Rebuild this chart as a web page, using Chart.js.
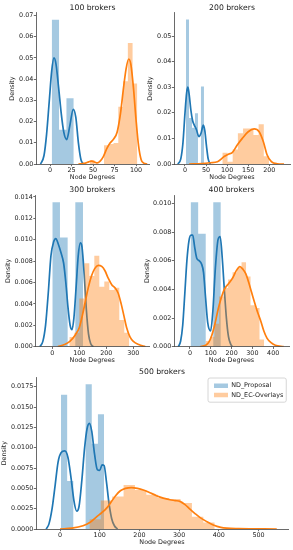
<!DOCTYPE html>
<html>
<head>
<meta charset="utf-8">
<script src="https://cdn.jsdelivr.net/npm/chart.js@4.4.1/dist/chart.umd.min.js"></script>
<style>
  html, body { margin: 0; padding: 0; background: #fff; overflow: hidden; }
  body { width: 293px; height: 550px; position: relative; }
  canvas { position: absolute; }
</style>
</head>
<body>
<canvas id="c100"></canvas>
<canvas id="c200"></canvas>
<canvas id="c300"></canvas>
<canvas id="c400"></canvas>
<canvas id="c500"></canvas>
<script>
const seriesNames = ["ND_Proposal", "ND_EC-Overlays"];
const panelTitles = ["100 brokers", "200 brokers", "300 brokers", "400 brokers", "500 brokers"];
const xLabel = "Node Degrees";
const yLabel = "Density";

// tick values
const xTicks100 = [0, 25, 50, 75, 100];
const xTicks200 = [0, 50, 100, 150, 200];
const xTicks300 = [0, 100, 200, 300];
const xTicks400 = [0, 100, 200, 300, 400];
const xTicks500 = [0, 100, 200, 300, 400, 500];
const yTicks100 = [0, 0.01, 0.02, 0.03, 0.04, 0.05, 0.06, 0.07];
const yTicks200 = [0, 0.01, 0.02, 0.03, 0.04, 0.05];
const yTicks300 = [0, 0.002, 0.004, 0.006, 0.008, 0.010, 0.012, 0.014];
const yTicks400 = [0, 0.002, 0.004, 0.006, 0.008, 0.010];
const yTicks500 = [0, 0.0025, 0.005, 0.0075, 0.01, 0.0125, 0.015, 0.0175];

// histograms: bin edges and density per bin
const blue100Edges = [2, 10.5, 19.1, 27.6];
const blue100Hist = [0.068, 0.0161, 0.031];
const orange100Edges = [46.2, 51.7, 57.3, 62.8, 68.3, 73.9, 79.4, 84.9, 90.5, 96.0, 101.5];
const orange100Hist = [0.0019, 0, 0, 0.0088, 0.0094, 0.0099, 0.027, 0.039, 0.057, 0.038];

const blue200Edges = [2.4, 9.5, 16.6, 23.7, 30.8, 37.9, 45.0];
const blue200Hist = [0.0565, 0.018, 0.0142, 0.0198, 0, 0.0303];
const orange200Edges = [88.6, 100.9, 113.2, 125.5, 137.8, 150.1, 162.4, 174.7, 187.0, 199.3];
const orange200Hist = [0.0044, 0.0009, 0.0057, 0.012, 0.0139, 0.0139, 0.0113, 0.0155, 0.003];

const blue300Edges = [0, 28.4, 56.8, 85.2, 113.6];
const blue300Hist = [0.0135, 0.0102, 0, 0.0135];
const orange300Edges = [63, 81.5, 100, 118.5, 137, 155.5, 174, 192.5, 211, 229.5, 248, 266.5, 285];
const orange300Hist = [0.0009, 0.0013, 0.0045, 0.0078, 0.0066, 0.0085, 0.0056, 0.0061, 0.0053, 0.0055, 0.0025, 0.0013];

const blue400Edges = [3, 39.3, 75.6, 111.9, 148.2];
const blue400Hist = [0.0101, 0.0079, 0, 0.0101];
const orange400Edges = [75, 96.6, 118.2, 139.8, 161.4, 183, 204.6, 226.2, 247.8, 269.4, 291, 312.6, 334.2, 355.8];
const orange400Hist = [0.0004, 0.0007, 0.0016, 0.0035, 0.0041, 0.0047, 0.0052, 0.0055, 0.0059, 0.0049, 0.0029, 0.0027, 0.0005];

const blue500Edges = [2.5, 18, 33.5, 49, 64.5, 80, 95.5, 111];
const blue500Hist = [0.0165, 0.0059, 0, 0, 0.0178, 0.0105, 0.0141];
const orange500Edges = [74, 102.7, 131.4, 160.1, 188.8, 217.5, 246.2, 274.9, 303.6, 332.3, 361, 389.7];
const orange500Hist = [0.0012, 0.0035, 0.0040, 0.0054, 0.0048, 0.0042, 0.0038, 0.0037, 0.0032, 0.0015, 0.0008];

// kde curves
const blue100KdeX = [-11, -7, -4, -1, 2, 4.6, 7, 10, 13, 16, 19.4, 23, 27, 30, 33, 36, 39];
const blue100KdeY = [0, 0.004, 0.014, 0.029, 0.044, 0.050, 0.047, 0.036, 0.024, 0.015, 0.0115, 0.018, 0.0258, 0.022, 0.010, 0.002, 0];
const orange100KdeX = [33, 40, 45, 48.5, 52, 55, 58, 62, 66, 70, 74, 78, 82, 85.5, 88.5, 91.5, 94, 97, 100, 103, 106, 109, 113];
const orange100KdeY = [0, 0.0003, 0.001, 0.0014, 0.0009, 0.0005, 0.0012, 0.0035, 0.0072, 0.010, 0.0118, 0.015, 0.024, 0.036, 0.045, 0.0495, 0.047, 0.036, 0.021, 0.0085, 0.002, 0.0004, 0];

const blue200KdeX = [-17, -10, -5, 0, 4, 7, 10, 14, 18, 22, 27, 33, 38, 43.5, 47, 51, 55, 60];
const blue200KdeY = [0, 0.002, 0.008, 0.020, 0.028, 0.030, 0.027, 0.021, 0.017, 0.0152, 0.0135, 0.0107, 0.012, 0.0152, 0.013, 0.007, 0.002, 0];
const orange200KdeX = [10, 40, 60, 77, 93, 104, 112, 124, 136, 150, 164, 176, 186, 195, 205, 219, 235];
const orange200KdeY = [0, 0.0002, 0.0005, 0.0009, 0.0029, 0.0039, 0.0044, 0.0074, 0.010, 0.0126, 0.0137, 0.0126, 0.0087, 0.0035, 0.0009, 0.0001, 0];

const blue300KdeX = [-46, -35, -25, -15, -5, 5, 13, 22, 32, 42, 50, 58, 66, 73, 80, 88, 96, 104, 110, 118, 126, 134, 142, 152];
const blue300KdeY = [0, 0.0005, 0.002, 0.005, 0.0085, 0.0098, 0.0101, 0.0096, 0.0088, 0.0078, 0.006, 0.0037, 0.002, 0.0016, 0.0027, 0.0055, 0.0085, 0.0097, 0.0093, 0.0068, 0.0035, 0.0012, 0.0003, 0];
const orange300KdeX = [20, 45, 65, 85, 100, 112, 122, 133, 145, 157, 170, 183, 195, 207, 220, 232, 244, 255, 265, 275, 288, 300, 320, 345];
const orange300KdeY = [0, 0.0002, 0.0005, 0.0011, 0.0018, 0.003, 0.0042, 0.0055, 0.0066, 0.0073, 0.0076, 0.0075, 0.0071, 0.0064, 0.0058, 0.0055, 0.005, 0.004, 0.0029, 0.0018, 0.0009, 0.0005, 0.0002, 0];

const blue400KdeX = [-56, -45, -35, -25, -15, -5, 5, 13, 22, 32, 45, 55, 65, 75, 85, 99, 110, 122, 135, 145, 155, 165, 175, 185, 195, 203];
const blue400KdeY = [0, 0.0004, 0.0015, 0.0037, 0.006, 0.0074, 0.0078, 0.0078, 0.007, 0.0062, 0.006, 0.0058, 0.0052, 0.0034, 0.0017, 0.0011, 0.0025, 0.0055, 0.0075, 0.0077, 0.0062, 0.004, 0.002, 0.0007, 0.0002, 0];
const orange400KdeX = [48, 75, 90, 105, 120, 135, 150, 165, 185, 205, 222, 240, 255, 268, 282, 296, 310, 325, 340, 355, 370, 388, 410, 450];
const orange400KdeY = [0, 0.0001, 0.0003, 0.0008, 0.0016, 0.0026, 0.0034, 0.004, 0.0044, 0.0048, 0.0053, 0.0056, 0.0054, 0.0051, 0.0045, 0.0038, 0.0031, 0.0024, 0.0018, 0.0011, 0.0006, 0.0003, 0.0001, 0];

const blue500KdeX = [-35, -28, -20, -12, -5, 3, 12, 20, 28, 35, 42, 48, 55, 62, 68, 74, 80, 87, 94, 100, 106, 111, 117, 123, 130, 137, 145];
const blue500KdeY = [0, 0.0006, 0.0025, 0.0055, 0.0082, 0.0094, 0.0096, 0.0088, 0.0062, 0.0035, 0.0022, 0.0028, 0.006, 0.01, 0.0123, 0.013, 0.012, 0.0092, 0.0073, 0.0072, 0.0079, 0.0078, 0.0058, 0.0033, 0.0013, 0.0004, 0];
const orange500KdeX = [0, 30, 58, 75, 92, 105, 118, 130, 140, 152, 165, 180, 195, 210, 225, 243, 260, 277, 290, 302, 315, 328, 340, 353, 370, 386, 405, 420, 450, 546];
const orange500KdeY = [0, 0.0001, 0.0004, 0.0008, 0.0015, 0.002, 0.0026, 0.0034, 0.0041, 0.0047, 0.005, 0.0051, 0.005, 0.0048, 0.0045, 0.0041, 0.0038, 0.0036, 0.0035, 0.0034, 0.003, 0.0024, 0.0019, 0.0014, 0.0009, 0.0005, 0.0002, 0.0001, 0.00005, 0];

const BLUE = "#1f77b4";
const ORANGE = "#ff7f0e";
const BLUE_FILL = "rgba(31,119,180,0.4)";
const ORANGE_FILL = "rgba(255,127,14,0.4)";
const INK = "#1a1a1a";
const SPINE = "#444";

Chart.defaults.font.family = "'DejaVu Sans', sans-serif";
Chart.defaults.color = INK;

function histPoints(edges, heights) {
  const pts = heights.map((h, i) => ({ x: edges[i], y: h }));
  pts.push({ x: edges[edges.length - 1], y: heights[heights.length - 1] });
  return pts;
}
function curvePoints(xs, ys) {
  return xs.map((x, i) => ({ x: x, y: ys[i] }));
}

// draws the legend frame and moves the legend inside the axes
const legendPlacer = {
  id: "legendPlacer",
  afterLayout(chart, args, opts) {
    const lg = chart.legend;
    if (!lg || !opts || opts.x === undefined) return;
    lg.left = opts.x; lg.top = opts.y;
    lg.right = opts.x + 100; lg.bottom = opts.y + 40;
  },
  beforeDraw(chart, args, opts) {
    const lg = chart.legend;
    if (!lg || !opts || opts.x === undefined || !lg.legendHitBoxes.length) return;
    const hb = lg.legendHitBoxes;
    const x0 = Math.min(...hb.map(h => h.left)) - 6;
    const y0 = Math.min(...hb.map(h => h.top)) - 4.5;
    const x1 = Math.max(...hb.map(h => h.left + h.width)) + 3;
    const y1 = Math.max(...hb.map(h => h.top + h.height)) + 4;
    const ctx = chart.ctx;
    ctx.save();
    ctx.beginPath();
    ctx.roundRect(x0, y0, x1 - x0, y1 - y0, 2);
    ctx.fillStyle = "rgba(255,255,255,0.8)";
    ctx.fill();
    ctx.lineWidth = 0.8;
    ctx.strokeStyle = "#ccc";
    ctx.stroke();
    ctx.restore();
  }
};

const panels = [
  { id: "c100", title: panelTitles[0], area: [36, 13, 149, 164], yTitleX: 12.8, xRange: [-16.3, 115.1], yMax: 0.0712, xTicks: xTicks100, yTicks: yTicks100, digits: 2,
    blue: [blue100Edges, blue100Hist, blue100KdeX, blue100KdeY], orange: [orange100Edges, orange100Hist, orange100KdeX, orange100KdeY] },
  { id: "c200", title: panelTitles[1], area: [174, 13, 290, 164], yTitleX: 150.3, xRange: [-26.1, 249.2], yMax: 0.059, xTicks: xTicks200, yTicks: yTicks200, digits: 2,
    blue: [blue200Edges, blue200Hist, blue200KdeX, blue200KdeY], orange: [orange200Edges, orange200Hist, orange200KdeX, orange200KdeY] },
  { id: "c300", title: panelTitles[2], area: [35.5, 195, 149, 346.7], yTitleX: 8.5, xRange: [-62.2, 358], yMax: 0.01418, xTicks: xTicks300, yTicks: yTicks300, digits: 3,
    blue: [blue300Edges, blue300Hist, blue300KdeX, blue300KdeY], orange: [orange300Edges, orange300Hist, orange300KdeX, orange300KdeY] },
  { id: "c400", title: panelTitles[3], area: [174, 195, 289, 346.7], yTitleX: 147, xRange: [-76.9, 475.9], yMax: 0.0106, xTicks: xTicks400, yTicks: yTicks400, digits: 3,
    blue: [blue400Edges, blue400Hist, blue400KdeX, blue400KdeY], orange: [orange400Edges, orange400Hist, orange400KdeX, orange400KdeY] },
  { id: "c500", title: panelTitles[4], area: [36, 377.3, 288, 529], yTitleX: 4.5, xRange: [-60.5, 574.3], yMax: 0.01866, xTicks: xTicks500, yTicks: yTicks500, digits: 4,
    blue: [blue500Edges, blue500Hist, blue500KdeX, blue500KdeY], orange: [orange500Edges, orange500Hist, orange500KdeX, orange500KdeY],
    legendAt: [211.1, 379.6] }
];

const TITLE_SIZE = 7.7, FONT_SIZE = 6.4;
const TITLE_PAD_TOP = 2, TITLE_PAD_BOTTOM = 0.8;
const X_AXIS_H = 17.5;
const KDE_WIDTH = 1.7;

function drawPanel(p) {
  const canvas = document.getElementById(p.id);
  const [l, t, r, b] = p.area;
  const titleH = TITLE_PAD_TOP + TITLE_SIZE * 1.2 + TITLE_PAD_BOTTOM;
  const half = FONT_SIZE * 1.2 / 2;
  const left = Math.floor(p.yTitleX - half);
  const top = Math.floor(t - titleH);
  const width = Math.ceil(r + 3) - left;
  const height = Math.ceil(b + X_AXIS_H) - top;
  canvas.width = width; canvas.height = height;
  canvas.style.left = left + "px"; canvas.style.top = top + "px";
  canvas.style.width = width + "px"; canvas.style.height = height + "px";
  const pad = {
    left: p.yTitleX - half - left,
    top: t - titleH - top,
    right: left + width - r,
    bottom: top + height - (b + X_AXIS_H)
  };
  const yWidth = l - (left + pad.left);

  const datasets = [
    { label: seriesNames[0], data: histPoints(p.blue[0], p.blue[1]), stepped: true, fill: "origin",
      backgroundColor: BLUE_FILL, borderColor: "rgba(0,0,0,0)", borderWidth: 0, pointRadius: 0, order: 3 },
    { label: seriesNames[0] + " kde", data: curvePoints(p.blue[2], p.blue[3]), fill: false,
      borderColor: BLUE, backgroundColor: BLUE, borderWidth: KDE_WIDTH, pointRadius: 0, cubicInterpolationMode: "monotone", order: 2 },
    { label: seriesNames[1], data: histPoints(p.orange[0], p.orange[1]), stepped: true, fill: "origin",
      backgroundColor: ORANGE_FILL, borderColor: "rgba(0,0,0,0)", borderWidth: 0, pointRadius: 0, order: 1 },
    { label: seriesNames[1] + " kde", data: curvePoints(p.orange[2], p.orange[3]), fill: false,
      borderColor: ORANGE, backgroundColor: ORANGE, borderWidth: KDE_WIDTH, pointRadius: 0, cubicInterpolationMode: "monotone", order: 0 }
  ];

  const axisCommon = {
    type: "linear",
    grid: { display: true, drawOnChartArea: false, drawTicks: true, tickLength: 2.2, tickWidth: 0.8, tickColor: SPINE },
    border: { display: true, color: SPINE, width: 0.8, z: 1 }
  };

  const legendOn = !!p.legendAt;

  new Chart(canvas, {
    type: "line",
    data: { datasets: datasets },
    plugins: [legendPlacer],
    options: {
      responsive: false,
      animation: false,
      devicePixelRatio: 1,
      layout: { padding: pad },
      plugins: {
        title: {
          display: true, text: p.title, fullSize: false, color: INK,
          font: { size: TITLE_SIZE, weight: "normal" },
          padding: { top: TITLE_PAD_TOP, bottom: TITLE_PAD_BOTTOM }
        },
        legend: {
          display: legendOn,
          position: "chartArea",
          align: "start",
          labels: {
            filter: (item) => seriesNames.includes(item.text),
            sort: (a, b) => a.datasetIndex - b.datasetIndex,
            boxWidth: 14, boxHeight: 4.5, padding: 2.9,
            font: { size: FONT_SIZE }, color: INK
          }
        },
        legendPlacer: legendOn ? { x: p.legendAt[0] - left, y: p.legendAt[1] - top } : {},
        tooltip: { enabled: false }
      },
      scales: {
        x: Object.assign({}, axisCommon, {
          min: p.xRange[0], max: p.xRange[1],
          afterBuildTicks: (scale) => { scale.ticks = p.xTicks.map(v => ({ value: v })); },
          afterFit: (scale) => { scale.height = X_AXIS_H; },
          ticks: { padding: 0.56, font: { size: FONT_SIZE }, color: INK, maxRotation: 0, autoSkip: false, callback: (v) => String(v) },
          title: { display: true, text: xLabel, color: INK, font: { size: FONT_SIZE }, padding: { top: 0, bottom: 0.5 } }
        }),
        y: Object.assign({}, axisCommon, {
          min: 0, max: p.yMax,
          afterBuildTicks: (scale) => { scale.ticks = p.yTicks.map(v => ({ value: v })); },
          afterFit: (scale) => { scale.width = yWidth; },
          ticks: { padding: 0.5, font: { size: FONT_SIZE }, color: INK, autoSkip: false, callback: (v) => Number(v).toFixed(p.digits) },
          title: { display: true, text: yLabel, color: INK, font: { size: FONT_SIZE }, padding: { top: 0, bottom: 0 } }
        })
      }
    }
  });
}

panels.forEach(drawPanel);
</script>
</body>
</html>
